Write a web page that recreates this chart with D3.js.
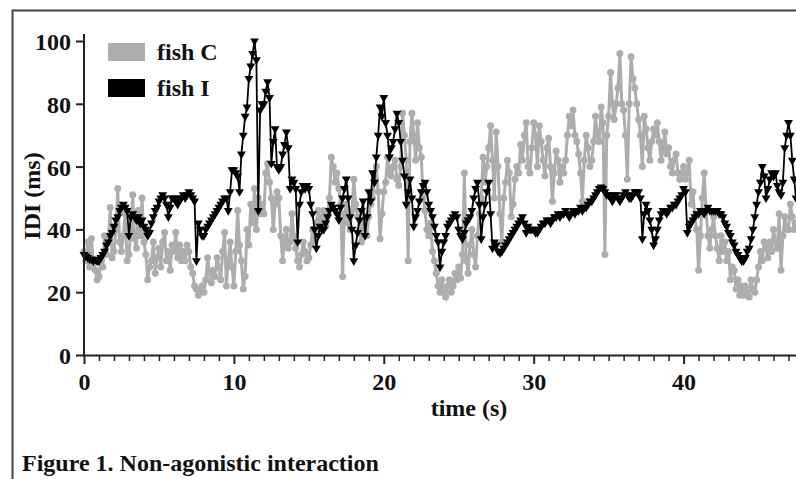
<!DOCTYPE html>
<html>
    <head>
        <meta charset="utf-8">
        <title>Figure 1</title>
        <script type="text/javascript" src="https://cdn.jsdelivr.net/npm/d3@7/dist/d3.min.js"></script>
        <style>
            body { margin: 0; background: #fff; }
            text { font-family: "Liberation Serif", "Times New Roman", serif; font-weight: bold; fill: #111; }
        </style>
    </head>
    <body>
        <script type="text/javascript">
            // sampling step of both recordings, in seconds (8 samples per second)
            var stepC = 0.125, stepI = 0.125;

            // fish C (grey), IDI in ms, one row per second
            var fishC = [
                33, 30, 36, 28, 37, 29, 27, 24,
                25, 30, 28, 38, 32, 36, 47, 31,
                33, 40, 53, 36, 33, 38, 45, 30,
                32, 40, 51, 37, 34, 46, 38, 50,
                36, 32, 24, 28, 30, 36, 26, 31,
                34, 28, 36, 39, 30, 33, 27, 35,
                33, 39, 31, 35, 30, 33, 30, 35,
                33, 28, 26, 22, 21, 19, 20, 22,
                20, 24, 31, 26, 23, 27, 25, 31,
                28, 24, 33, 39, 22, 30, 36, 28,
                22, 33, 46, 35, 30, 21, 25, 40,
                35, 48, 42, 53, 40, 50, 45, 48,
                45, 58, 61, 55, 50, 40, 48, 52,
                50, 38, 30, 36, 40, 34, 36, 45,
                38, 34, 30, 28, 32, 36, 33, 30,
                31, 35, 40, 36, 42, 46, 40, 44,
                46, 41, 45, 50, 63, 60, 55, 58,
                53, 48, 25, 45, 48, 42, 40, 46,
                56, 48, 44, 40, 36, 42, 44, 38,
                44, 48, 50, 56, 60, 52, 37, 45,
                52, 55, 63, 58, 57, 60, 62, 56,
                54, 60, 77, 70, 62, 30, 68, 77,
                70, 62, 74, 66, 63, 50, 46, 40,
                38, 42, 33, 30, 26, 22, 20, 24,
                20, 18.5, 22, 24, 20, 22, 26, 24,
                28, 24.5, 32, 58, 30, 26, 35, 40,
                32, 28, 38, 45, 50, 63, 55, 60,
                66, 73, 62, 50, 71, 60, 45, 36,
                50, 55, 62, 58, 44, 48, 56, 60,
                58, 67, 62, 70, 74, 60, 58, 66,
                74, 70, 60, 73, 68, 62, 57, 66,
                69, 60, 49, 58, 65, 62, 55, 60,
                58, 62, 70, 76, 73, 78, 70, 68,
                64, 58, 49, 62, 70, 66, 60, 62,
                68, 76, 70, 68, 79, 74, 32, 70,
                76, 90, 80, 75, 80, 85, 96, 80,
                78, 70, 56, 80, 95, 88, 85, 80,
                75, 70, 60, 76, 72, 66, 62, 68,
                72, 70, 74, 68, 62, 66, 71, 64,
                66, 60, 58, 62, 64, 58, 56, 58,
                60, 56, 58, 62, 48, 52, 44, 40,
                27, 38, 50, 58, 46, 38, 34, 40,
                44, 38, 34, 30, 38, 33, 36, 30,
                33, 24, 28, 27, 21, 24, 19, 22,
                19, 22, 20, 18.5, 24, 21, 20, 24,
                28, 33, 30, 36, 34, 31, 36, 33,
                40, 36, 34, 45, 27, 38, 44, 40,
                40, 48, 44, 40, 42
            ];

            // fish I (black), IDI in ms, one row per second
            var fishI = [
                32, 31.5, 31, 30.5, 30.5, 30, 30.5, 30,
                30, 31, 32, 33, 35, 36, 38, 39,
                41, 43, 44, 46, 47, 48, 47, 46,
                38, 44, 45, 44, 43, 44, 42, 43,
                41, 40, 38, 39, 42, 44, 46, 47,
                49, 50, 51, 50, 48, 44, 47, 50,
                50, 49, 48, 50, 50, 51, 50, 51,
                52, 51, 50, 49, 30, 42, 40, 38,
                38, 40, 41, 42, 43, 44, 45, 46,
                47, 48, 49, 50, 50, 46, 52, 59,
                59, 58, 57, 52, 64, 70, 76, 79,
                88, 92, 96, 100, 94, 46, 78, 80,
                80, 84, 87, 82, 61, 68, 72, 60,
                59, 60, 64, 67, 71, 66, 53, 56,
                55, 53, 36, 48, 52, 54, 53, 54,
                53, 48, 45, 40, 34, 38, 41, 40,
                40, 42, 44, 46, 48, 47, 46, 45,
                43, 47, 50, 53, 56, 50, 44, 40,
                30, 35, 39, 43, 46, 49, 38, 44,
                52, 49, 58, 55, 63, 70, 79, 76,
                82, 74, 70, 63, 66, 68, 72, 77,
                74, 68, 62, 57, 48, 52, 56, 50,
                41, 44, 46, 49, 52, 54, 55, 52,
                48, 46, 44, 41, 38, 36, 28, 33,
                36, 38, 41, 42, 43, 44, 45, 44,
                40, 38, 37, 39, 42, 43, 44, 46,
                50, 53, 55, 48, 37, 44, 48, 52,
                55, 45, 34, 36, 35, 33, 32.5, 33,
                34, 35, 36, 37, 38, 39, 40, 41,
                42, 43, 44, 42, 39, 41, 40, 40,
                40, 39, 39, 40, 41, 42, 42, 43,
                43, 42, 43, 44, 44, 45, 44, 45,
                45, 46, 45, 44, 45, 46, 45, 46,
                46, 47, 46, 47, 47, 48, 49, 49,
                50, 51, 52, 53, 53.5, 53, 52, 51,
                51, 50, 49, 51, 51, 50, 49, 50,
                51, 52, 51, 50, 50, 51, 52, 52,
                52, 50, 37, 45, 48, 46, 43, 40,
                35, 37, 40, 43, 45, 46, 46, 45,
                46, 47, 47, 48, 48, 49, 50, 51,
                53, 52, 39, 41, 42, 43, 44, 45,
                45, 46, 46, 45, 46, 47, 46, 46,
                46, 46, 46, 45, 45, 44, 42, 41,
                39, 38, 36, 35, 33, 32, 31, 30,
                30, 31, 33, 34, 37, 40, 44, 48,
                52, 55, 60, 57, 50, 53, 56, 58,
                57, 58, 54, 52, 51, 55, 66, 70,
                74, 70, 62, 56, 50
            ];

            var yTicks = [0, 20, 40, 60, 80, 100];
            var xTicks = [0, 10, 20, 30, 40];

            var width = 796, height = 479;
            var svg = d3.select("body").append("svg").attr("width", width).attr("height", height);

            // figure frame (top and left edges only are visible)
            svg.append("path")
                .attr("d", "M 12.5,479 L 12.5,10.5 L 796,10.5")
                .attr("fill", "none").attr("stroke", "#444").attr("stroke-width", 2);

            var x = d3.scaleLinear().domain([0, 47.5]).range([84, 796]);
            var y = d3.scaleLinear().domain([0, 100]).range([355, 41]);

            var ptsC = fishC.map(function (v, i) { return [i * stepC, v]; });
            var ptsI = fishI.map(function (v, i) { return [i * stepI, v]; });
            var line = d3.line().x(function (d) { return x(d[0]); }).y(function (d) { return y(d[1]); });

            // grey series: thick line with round dots
            svg.append("path").datum(ptsC).attr("d", line)
                .attr("fill", "none").attr("stroke", "#adadad").attr("stroke-width", 3);
            svg.append("g").selectAll("circle").data(ptsC).enter().append("circle")
                .attr("cx", function (d) { return x(d[0]); })
                .attr("cy", function (d) { return y(d[1]); })
                .attr("r", 3.5).attr("fill", "#adadad");

            // black series: thin line with down-pointing triangles
            svg.append("path").datum(ptsI).attr("d", line)
                .attr("fill", "none").attr("stroke", "#000").attr("stroke-width", 1.8);
            var tri = d3.symbol().type(d3.symbolTriangle).size(34);
            svg.append("g").selectAll("path").data(ptsI).enter().append("path")
                .attr("d", tri)
                .attr("transform", function (d) { return "translate(" + x(d[0]) + "," + y(d[1]) + ") rotate(180)"; })
                .attr("fill", "#000");

            // axes
            var yAxis = svg.append("g").attr("transform", "translate(84,0)")
                .call(d3.axisLeft(y).tickValues(yTicks).tickSize(8).tickPadding(5).tickSizeOuter(0));
            yAxis.select(".domain").attr("d", "M0,34 V355").attr("stroke", "#222").attr("stroke-width", 2);
            yAxis.selectAll(".tick line").attr("stroke", "#222").attr("stroke-width", 2);
            yAxis.selectAll(".tick text").style("font-size", "24px").attr("font-family", null).attr("dy", "0.35em");

            var xAxis = svg.append("g").attr("transform", "translate(0,355)")
                .call(d3.axisBottom(x).tickValues(xTicks).tickSize(9).tickPadding(9).tickSizeOuter(0));
            xAxis.select(".domain").attr("stroke", "#222").attr("stroke-width", 2);
            xAxis.selectAll(".tick line").attr("stroke", "#222").attr("stroke-width", 2);
            xAxis.selectAll(".tick text").style("font-size", "24px").attr("font-family", null);

            var minor = svg.append("g").attr("transform", "translate(0,355)")
                .call(d3.axisBottom(x).tickValues(d3.range(1, 48).filter(function (t) { return t % 10 !== 0; }))
                    .tickSize(6).tickFormat("").tickSizeOuter(0));
            minor.select(".domain").remove();
            minor.selectAll(".tick line").attr("stroke", "#222").attr("stroke-width", 1.5);

            // axis titles
            svg.append("text").attr("transform", "translate(40,196) rotate(-90)")
                .attr("text-anchor", "middle").style("font-size", "24px").text("IDI (ms)");
            svg.append("text").attr("x", 469).attr("y", 416)
                .attr("text-anchor", "middle").style("font-size", "24px").text("time (s)");

            // legend
            var legend = [["fish C", "#adadad"], ["fish I", "#000"]];
            var lg = svg.append("g").selectAll("g").data(legend).enter().append("g")
                .attr("transform", function (d, i) { return "translate(108," + (43 + i * 36) + ")"; });
            lg.append("rect").attr("width", 37).attr("height", 18).attr("fill", function (d) { return d[1]; });
            lg.append("text").attr("x", 49).attr("y", 17).style("font-size", "24px").text(function (d) { return d[0]; });

            // caption
            svg.append("text").attr("x", 22).attr("y", 471).style("font-size", "24px")
                .text("Figure 1. Non-agonistic interaction");
        </script>
    </body>
</html>
